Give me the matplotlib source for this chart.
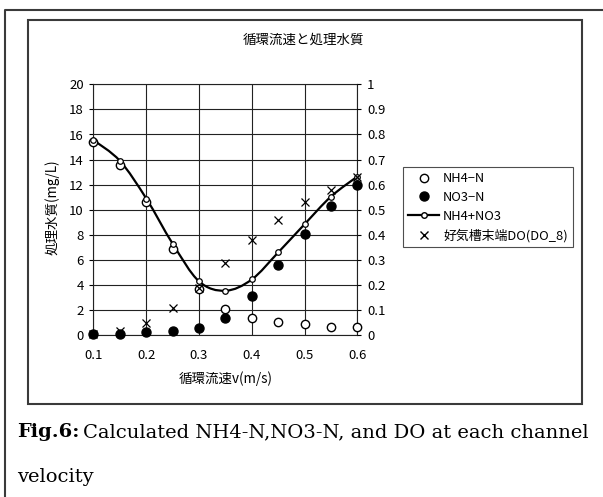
import matplotlib
matplotlib.use("Agg")
import matplotlib.pyplot as plt
from matplotlib.path import Path
from matplotlib.patches import PathPatch, Rectangle
from matplotlib.lines import Line2D

plt.rcParams['font.family'] = ['Noto Sans CJK JP', 'DejaVu Sans']

# velocity (m/s)
v = [0.1, 0.15, 0.2, 0.25, 0.3, 0.35, 0.4, 0.45, 0.5, 0.55, 0.6]
nh4 = [15.4, 13.6, 10.65, 6.9, 3.65, 2.1, 1.35, 1.05, 0.9, 0.65, 0.65]
no3 = [0.12, 0.1, 0.24, 0.37, 0.6, 1.35, 3.1, 5.6, 8.1, 10.3, 12.0]
total = [15.55, 13.9, 10.9, 7.3, 4.3, 3.55, 4.45, 6.6, 8.85, 11.05, 12.65]
do8 = [0.005, 0.017, 0.05, 0.11, 0.19, 0.29, 0.38, 0.46, 0.53, 0.58, 0.63]

W, H = 603, 497
fig = plt.figure(figsize=(W / 100, H / 100), dpi=100)

# outer and inner frames
fig.add_artist(Line2D([4.5 / W, 4.5 / W, 1], [0, 1 - 9.5 / H, 1 - 9.5 / H],
                      transform=fig.transFigure, color='#3a3a3a', lw=1.5))
fig.add_artist(Rectangle((28 / W, 1 - 404 / H), 553.5 / W, 384 / H,
                         transform=fig.transFigure, fill=False,
                         ec='#3a3a3a', lw=1.5))

ax = fig.add_axes([93.5 / W, 1 - 335.3 / H, 263.8 / W, 251 / H])
ax.set_xlim(0.1, 0.6)
ax.set_ylim(0, 20)
ax.set_xticks([0.1, 0.2, 0.3, 0.4, 0.5, 0.6])
ax.set_xticklabels(['0.1', '0.2', '0.3', '0.4', '0.5', '0.6'])
ax.set_yticks(range(0, 21, 2))
ax.grid(True, color='#222222', lw=0.8)
for s in ax.spines.values():
    s.set_color('#222222')
    s.set_linewidth(0.8)
ax.tick_params(axis='y', length=3, width=0.8, pad=4, labelsize=9.5)
ax.tick_params(axis='x', length=0, pad=10, labelsize=9.5)

ax2 = ax.twinx()
ax2.set_ylim(0, 1)
ax2.set_yticks([i / 10 for i in range(11)])
ax2.set_yticklabels(['0'] + ['0.%d' % i for i in range(1, 10)] + ['1'])
ax2.tick_params(axis='y', length=3, width=0.8, pad=4, labelsize=9.5)
for s in ax2.spines.values():
    s.set_visible(False)

# smooth line (Excel-style Bezier through the points)
verts = [(v[0], total[0])]
codes = [Path.MOVETO]
n = len(v)
for i in range(n - 1):
    p0 = (v[max(i - 1, 0)], total[max(i - 1, 0)])
    p1 = (v[i], total[i])
    p2 = (v[i + 1], total[i + 1])
    p3 = (v[min(i + 2, n - 1)], total[min(i + 2, n - 1)])
    c1 = (p1[0] + (p2[0] - p0[0]) / 6, p1[1] + (p2[1] - p0[1]) / 6)
    c2 = (p2[0] - (p3[0] - p1[0]) / 6, p2[1] - (p3[1] - p1[1]) / 6)
    verts += [c1, c2, p2]
    codes += [Path.CURVE4] * 3
ax.add_patch(PathPatch(Path(verts, codes), fill=False, ec='black', lw=1.6,
                       zorder=3, clip_on=False))

ax.plot(v, nh4, 'o', ms=6, mfc='white', mec='black', mew=1.0, zorder=4,
        clip_on=False)
ax.plot(v, no3, 'o', ms=6.5, mfc='black', mec='black', zorder=4, clip_on=False)
ax.plot(v, total, 'o', ms=4, mfc='white', mec='black', mew=0.9, zorder=5,
        clip_on=False)
ax2.plot(v, do8, 'x', ms=6, color='black', mew=0.9, zorder=4, clip_on=False)
ax2.set_zorder(ax.get_zorder() + 1)
ax2.patch.set_visible(False)

handles = [
    Line2D([], [], ls='none', marker='o', ms=6, mfc='white', mec='black'),
    Line2D([], [], ls='none', marker='o', ms=6.5, mfc='black', mec='black'),
    Line2D([], [], color='black', lw=1.6, marker='o', ms=4, mfc='white',
           mec='black'),
    Line2D([], [], ls='none', marker='x', ms=6, color='black'),
]
labels = ['NH4−N', 'NO3−N', 'NH4+NO3', '好気槽末端DO(DO_8)']
leg = fig.legend(handles, labels, loc='upper left',
                 bbox_to_anchor=(403 / W, 1 - 167 / H), frameon=True,
                 fancybox=False, edgecolor='#222222', fontsize=9.3,
                 handlelength=2.4, handletextpad=0.3, labelspacing=0.45,
                 borderpad=0.4, borderaxespad=0)
leg.get_frame().set_linewidth(0.8)

fig.text(303 / W, 1 - 40 / H, '循環流速と処理水質', ha='center', va='center',
         fontsize=9.7)
fig.text(52 / W, 1 - 207 / H, '処理水質(mg/L)', ha='center', va='center',
         rotation=90, fontsize=9.7)
fig.text(226 / W, 1 - 379 / H, '循環流速v(m/s)', ha='center', va='center',
         fontsize=9.7)

# caption
t1 = fig.text(17 / W, 1 - 432 / H, 'Fig.6:', ha='left', va='center',
              fontsize=14, fontweight='bold', family='DejaVu Serif')
fig.canvas.draw()
bb = t1.get_window_extent()
fig.text((bb.x1 + 4) / W, 1 - 432 / H,
         'Calculated NH4-N,NO3-N, and DO at each channel',
         ha='left', va='center', fontsize=14, family='DejaVu Serif')
fig.text(17 / W, 1 - 477 / H, 'velocity', ha='left', va='center',
         fontsize=14, family='DejaVu Serif')

fig.savefig('out.png', dpi=100)
